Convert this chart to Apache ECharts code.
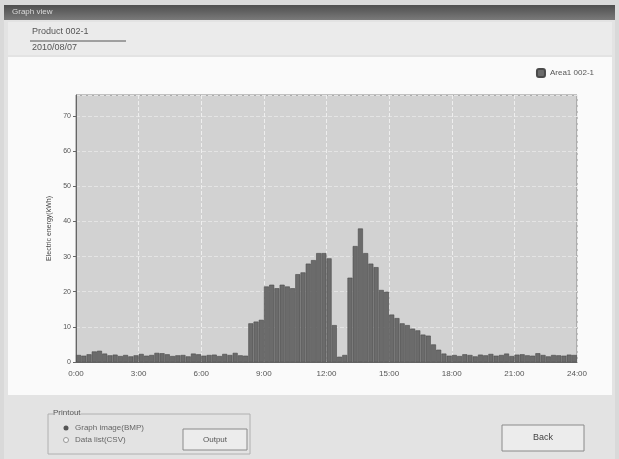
<!DOCTYPE html>
<html>
<head>
<meta charset="utf-8">
<title>Graph view</title>
<script src="https://cdn.jsdelivr.net/npm/echarts@6/dist/echarts.min.js"></script>
<style>
  html, body { margin: 0; padding: 0; background: #d9d9d9; }
  #miGrafica { width: 619px; height: 459px; }
</style>
</head>
<body>
<div id="miGrafica"></div>
<script>
// energy per 15 minutes over one day (96 slots)
var slotHours = 0.25;
var energy = [
  2.0, 1.8, 2.2, 3.0, 3.2, 2.4, 1.9, 2.1, 1.7, 2.0, 1.6, 1.9,
  2.3, 1.8, 2.0, 2.6, 2.5, 2.2, 1.7, 1.9, 2.0, 1.6, 2.4, 2.2,
  1.8, 2.0, 2.1, 1.7, 2.3, 2.0, 2.6, 1.9, 1.8, 11.0, 11.5, 12.0,
  21.5, 22.0, 21.0, 22.0, 21.5, 21.0, 25.0, 25.5, 28.0, 29.0, 31.0, 31.0,
  29.5, 10.5, 1.5, 2.0, 24.0, 33.0, 38.0, 31.0, 28.0, 27.0, 20.5, 20.0,
  13.5, 12.5, 11.0, 10.5, 9.5, 9.0, 7.8, 7.5, 5.0, 3.5, 2.4, 1.8,
  2.0, 1.7, 2.2, 2.0, 1.6, 2.1, 1.9, 2.3, 1.8, 2.0, 2.4, 1.7,
  2.1, 2.2, 1.9, 1.8, 2.5, 2.0, 1.6, 2.0, 1.9, 1.8, 2.1, 2.0
];
var hourTicks = [0, 3, 6, 9, 12, 15, 18, 21, 24];
var yMax = 76;
var seriesName = 'Area1 002-1';

var barData = energy.map(function (v, i) {
  return [i * slotHours + slotHours / 2, v];
});

var dom = document.getElementById('miGrafica');
var myChart = echarts.init(dom, null, { renderer: 'canvas' });

var option = {
  backgroundColor: '#d9d9d9',
  animation: false,
  textStyle: { fontFamily: 'Liberation Sans' },
  graphic: [
    // window chrome
    { type: 'rect', z: -10, shape: { x: 4, y: 5, width: 611, height: 454 }, style: { fill: '#e3e3e3' } },
    { type: 'rect', z: -9, shape: { x: 4, y: 5, width: 611, height: 15 },
      style: { fill: new echarts.graphic.LinearGradient(0, 0, 0, 1, [
        { offset: 0, color: '#4e4e4e' }, { offset: 1, color: '#7a7a7a' }]) } },
    { type: 'text', z: -8, x: 12, y: 8, style: { text: 'Graph view', fill: '#dddddd', fontSize: 8 } },
    { type: 'rect', z: -9, shape: { x: 8, y: 22, width: 604, height: 33 }, style: { fill: '#ebebeb' } },
    { type: 'text', z: -8, x: 32, y: 27, style: { text: 'Product 002-1', fill: '#555', fontSize: 9 } },
    { type: 'line', z: -8, shape: { x1: 30, y1: 41, x2: 126, y2: 41 }, style: { stroke: '#555', lineWidth: 1 } },
    { type: 'text', z: -8, x: 32, y: 43, style: { text: '2010/08/07', fill: '#555', fontSize: 9 } },
    { type: 'rect', z: -9, shape: { x: 8, y: 57, width: 604, height: 338 }, style: { fill: '#fafafa' } },
    // bottom controls
    { type: 'rect', z: -8, shape: { x: 48, y: 414, width: 202, height: 40 }, style: { fill: 'none', stroke: '#b0b0b0' } },
    { type: 'text', z: -7, x: 53, y: 409, style: { text: 'Printout', fill: '#555', fontSize: 8, backgroundColor: '#e3e3e3' } },
    { type: 'circle', z: -7, shape: { cx: 66, cy: 428, r: 2.5 }, style: { fill: '#555' } },
    { type: 'text', z: -7, x: 75, y: 424, style: { text: 'Graph image(BMP)', fill: '#666', fontSize: 8 } },
    { type: 'circle', z: -7, shape: { cx: 66, cy: 440, r: 2.5 }, style: { fill: '#f5f5f5', stroke: '#999' } },
    { type: 'text', z: -7, x: 75, y: 436, style: { text: 'Data list(CSV)', fill: '#666', fontSize: 8 } },
    { type: 'rect', z: -7, shape: { x: 183, y: 429, width: 64, height: 21 }, style: { fill: '#ececec', stroke: '#8a8a8a' } },
    { type: 'text', z: -6, x: 215, y: 440, style: { text: 'Output', fill: '#555', fontSize: 8, align: 'center', verticalAlign: 'middle' } },
    { type: 'rect', z: -7, shape: { x: 502, y: 425, width: 82, height: 26 }, style: { fill: '#ececec', stroke: '#8a8a8a' } },
    { type: 'text', z: -6, x: 543, y: 438, style: { text: 'Back', fill: '#444', fontSize: 9, align: 'center', verticalAlign: 'middle' } }
  ],
  legend: {
    right: 20,
    top: 63,
    itemWidth: 8,
    itemHeight: 8,
    itemGap: 4,
    textStyle: { fontSize: 8, color: '#555' },
    data: [seriesName]
  },
  grid: {
    left: 76,
    right: 42,
    top: 95,
    bottom: 97,
    show: true,
    backgroundColor: '#d2d2d2',
    borderColor: '#888',
    borderWidth: 1
  },
  xAxis: {
    type: 'value',
    min: hourTicks[0],
    max: hourTicks[hourTicks.length - 1],
    interval: 3,
    axisLine: { lineStyle: { color: '#666' } },
    axisTick: { show: false },
    axisLabel: { fontSize: 8, color: '#555', formatter: function (v) { return v + ':00'; } },
    splitLine: { show: true, lineStyle: { color: '#eeeeee', type: 'dashed' } }
  },
  yAxis: {
    type: 'value',
    min: 0,
    max: yMax,
    interval: 10,
    name: 'Electric energy(kWh)',
    nameLocation: 'middle',
    nameGap: 17,
    nameTextStyle: { fontSize: 7, color: '#444' },
    axisLine: { show: true, lineStyle: { color: '#666' } },
    axisTick: { show: true, length: 3, lineStyle: { color: '#666' } },
    axisLabel: { fontSize: 7, color: '#555', showMaxLabel: false, margin: 5 },
    splitLine: { show: true, lineStyle: { color: '#e4e4e4', type: 'dashed' } }
  },
  series: [
    {
      name: seriesName,
      type: 'bar',
      barWidth: 5,
      data: barData,
      itemStyle: { color: '#6b6b6b', borderColor: '#4a4a4a', borderWidth: 0.6 }
    }
  ]
};

if (option && typeof option === 'object') {
  myChart.setOption(option);
}

window.addEventListener('resize', myChart.resize);
</script>
</body>
</html>
